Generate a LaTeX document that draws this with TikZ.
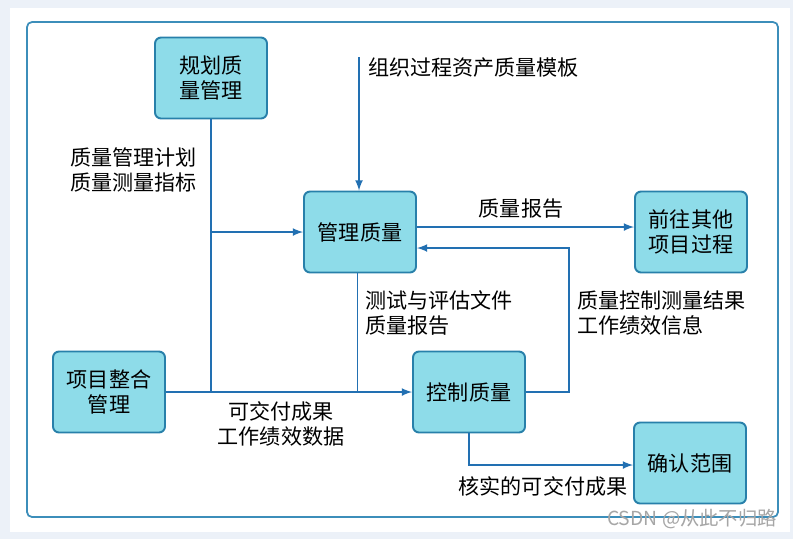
\documentclass[tikz,border=0pt]{standalone}
\usepackage{fontspec}
\setmainfont{Noto Sans CJK SC}
\usepackage{xcolor}
\usepackage{tikz}
\usetikzlibrary{arrows,positioning,calc}
\definecolor{boxfill}{RGB}{142,220,233}
\definecolor{boxline}{RGB}{40,128,170}
\definecolor{flow}{RGB}{34,112,178}
\definecolor{frameline}{RGB}{60,142,186}
\definecolor{outerbg}{RGB}{236,241,248}

\begin{document}
\begin{tikzpicture}[x=0.02cm,y=-0.02cm,
	proc/.style={draw=boxline,line width=1.1pt,fill=boxfill,rounded corners=0.12cm,
		minimum width=2.24cm,minimum height=1.62cm,inner sep=0pt,align=center,
		font=\fontsize{12}{14.2}\selectfont},
	lbl/.style={inner sep=1pt,font=\fontsize{12}{14.2}\selectfont},
	arr/.style={-latex,flow,line width=1pt},
	ln/.style={flow,line width=1pt}]
	\fill[outerbg] (0,0) rectangle (793,539);
	\fill[white] (10,8) rectangle (790,532);
	\draw[frameline,line width=1pt,rounded corners=0.1cm] (27,22) rectangle (778,517);
	% process boxes
	\node[proc] (guihua) at (211,78) {规划质\\量管理};
	\node[proc] (guanli) at (360,232) {管理质量};
	\node[proc] (qianwang) at (691,232) {前往其他\\项目过程};
	\node[proc] (zhenghe) at (109,392) {项目整合\\管理};
	\node[proc] (kongzhi) at (469,392) {控制质量};
	\node[proc] (queren) at (690,463) {确认范围};
	\coordinate (org) at (359,57);
	\coordinate (fb) at (569,248);
	% connectors
	\draw[ln] (guihua.south) -- (guihua.south |- zhenghe.east);
	\draw[arr] (guihua.south |- guanli.west) -- (guanli.west);
	\draw[arr] (org) -- (org |- guanli.north);
	\draw[arr] (zhenghe.east) -- (kongzhi.west);
	\draw[ln] ([xshift=-0.05cm]guanli.south) -- ([xshift=-0.05cm]guanli.south |- zhenghe.east);
	\draw[arr] ([yshift=0.1cm]guanli.east) -- ([yshift=0.1cm]qianwang.west);
	\draw[arr] (kongzhi.east) -| (fb) -- (guanli.east |- fb);
	\draw[arr] (kongzhi.south) |- ([yshift=-0.04cm]queren.west);
	% labels
	\node[lbl,anchor=west,align=left] (planlbl) at (68,170) {质量管理计划\\质量测量指标};
	\node[lbl,anchor=west] (orglbl) at (366,68) {组织过程资产质量模板};
	\node[lbl] (rptlbl) at (521,209) {质量报告};
	\node[lbl,anchor=west,align=left] (testlbl) at (363,313) {测试与评估文件\\质量报告};
	\node[lbl,anchor=west,align=left] (qclbl) at (575,313) {质量控制测量结果\\工作绩效信息};
	\node[lbl,align=center] (dellbl) at (281,424) {可交付成果\\工作绩效数据};
	\node[lbl] (verlbl) at (543,486) {核实的可交付成果};
	\node[lbl,gray!70,font=\fontsize{11}{13}\selectfont] (mark) at (692,519) {CSDN @从此不归路};
\end{tikzpicture}
\end{document}
